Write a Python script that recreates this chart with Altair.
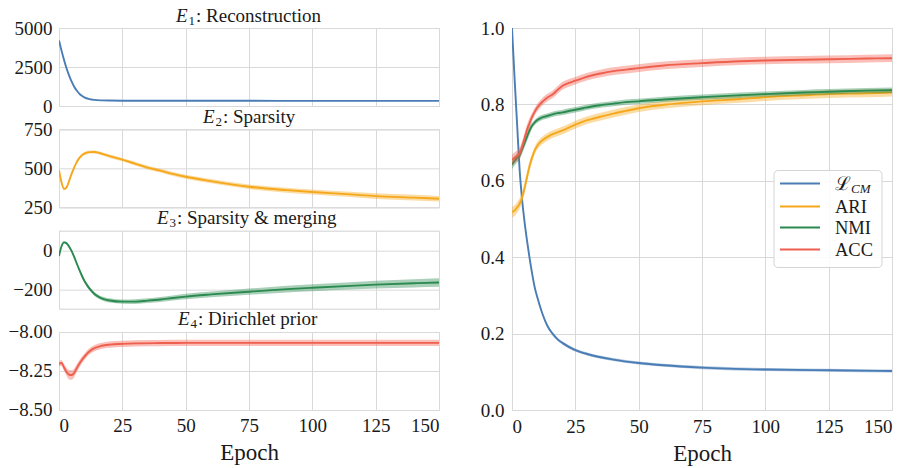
import altair as alt
import pandas as pd

FONT = "Liberation Serif"
TEXT_COLOR = "#1a1a1a"
GRID_COLOR = "#d9d9d9"
EPOCH_TICKS = [0, 25, 50, 75, 100, 125, 150]

# ---------------- left column data ----------------
E1_EPOCHS = [0, 1, 2, 3, 4, 5, 6, 7, 8, 9, 10, 12, 14, 17, 20, 25, 35, 50, 75, 100, 125, 150]
E1_VALS = [4200, 3550, 2950, 2400, 1950, 1560, 1240, 990, 790, 650, 550, 440, 390, 360, 348, 340,
           336, 334, 332, 331, 330, 330]
E1_STD = [60, 50, 45, 40, 35, 30, 25, 20, 18, 15, 12, 10, 8, 8, 8, 8, 8, 8, 8, 8, 8, 8]

E2_EPOCHS = [0, 1, 2, 3, 4, 5, 6, 7, 8, 9, 10, 12, 14, 16, 18, 20, 25, 30, 35, 40, 45, 50, 60, 75,
             90, 100, 115, 125, 140, 150]
E2_VALS = [488, 410, 368, 378, 420, 466, 505, 540, 565, 583, 594, 604, 605, 598, 588, 578, 556, 530,
           505, 485, 464, 446, 418, 382, 360, 348, 333, 322, 312, 305]
E2_STD = [8, 8, 8, 8, 8, 8, 8, 9, 9, 10, 10, 10, 10, 10, 11, 11, 11, 12, 12, 12, 13, 13, 14, 15,
          16, 16, 17, 18, 18, 18]

E3_EPOCHS = [0, 1, 2, 3, 4, 5, 6, 7, 8, 9, 10, 11, 12, 14, 16, 18, 20, 25, 30, 35, 40, 45, 50, 60,
             75, 90, 100, 115, 125, 140, 150]
E3_VALS = [-30, 20, 40, 35, 18, -5, -35, -68, -100, -130, -157, -178, -196, -225, -242, -252, -258,
           -264, -264, -259, -253, -245, -238, -227, -213, -200, -193, -183, -177, -170, -166]
E3_STD = [6, 6, 6, 7, 7, 7, 8, 8, 8, 9, 9, 9, 10, 10, 10, 11, 11, 11, 12, 12, 13, 13, 14, 15, 16,
          17, 18, 19, 20, 21, 22]

E4_EPOCHS = [0, 1, 2, 3, 4, 5, 6, 7, 8, 9, 10, 11, 12, 14, 16, 18, 20, 25, 30, 40, 50, 75, 100,
             125, 150]
E4_VALS = [-8.205, -8.198, -8.228, -8.256, -8.274, -8.276, -8.262, -8.232, -8.205, -8.180, -8.160,
           -8.140, -8.125, -8.104, -8.092, -8.085, -8.081, -8.076, -8.073, -8.071, -8.070, -8.070,
           -8.070, -8.070, -8.070]
E4_STD = [0.015, 0.018, 0.022, 0.026, 0.03, 0.03, 0.028, 0.026, 0.024, 0.022, 0.021, 0.02, 0.02,
          0.02, 0.02, 0.02, 0.02, 0.02, 0.02, 0.02, 0.02, 0.02, 0.02, 0.02, 0.02]

# ---------------- right panel data ----------------
LCM_EPOCHS = [0, 1, 2, 3, 4, 5, 6, 7, 8, 9, 10, 12, 14, 16, 18, 20, 25, 30, 40, 50, 60, 75, 100,
              125, 150]
LCM_VALS = [1.0, 0.87, 0.75, 0.63, 0.55, 0.49, 0.44, 0.395, 0.355, 0.32, 0.295, 0.252, 0.22, 0.2,
            0.185, 0.175, 0.157, 0.146, 0.132, 0.123, 0.117, 0.111, 0.106, 0.104, 0.102]
LCM_STD = [0.004] * len(LCM_EPOCHS)

M_EPOCHS = [0, 1, 2, 3, 4, 5, 6, 7, 8, 9, 10, 11, 12, 13, 14, 15, 16, 18, 20, 22, 25, 28, 31, 35,
            40, 45, 50, 60, 75, 90, 100, 115, 125, 140, 150]
ACC_VALS = [0.655, 0.66, 0.665, 0.672, 0.69, 0.712, 0.735, 0.752, 0.768, 0.781, 0.792, 0.80,
            0.807, 0.813, 0.818, 0.822, 0.826, 0.838, 0.849, 0.855, 0.862, 0.869, 0.875, 0.881,
            0.887, 0.891, 0.895, 0.902, 0.908, 0.913, 0.915, 0.917, 0.918, 0.92, 0.921]
NMI_VALS = [0.642, 0.652, 0.66, 0.667, 0.683, 0.70, 0.717, 0.733, 0.745, 0.753, 0.759, 0.763,
            0.766, 0.768, 0.77, 0.772, 0.774, 0.777, 0.779, 0.782, 0.786, 0.79, 0.794, 0.798,
            0.802, 0.806, 0.808, 0.813, 0.819, 0.824, 0.827, 0.831, 0.833, 0.836, 0.837]
ARI_VALS = [0.518, 0.522, 0.53, 0.54, 0.557, 0.582, 0.612, 0.64, 0.662, 0.68, 0.692, 0.70, 0.706,
            0.711, 0.715, 0.719, 0.722, 0.727, 0.732, 0.738, 0.747, 0.755, 0.761, 0.768, 0.776,
            0.783, 0.79, 0.799, 0.808, 0.814, 0.819, 0.824, 0.827, 0.829, 0.831]
ACC_STD = [0.014] * 8 + [0.01] * (len(M_EPOCHS) - 8)
NMI_STD = [0.012] * 8 + [0.007] * (len(M_EPOCHS) - 8)
ARI_STD = [0.014] * 8 + [0.01] * (len(M_EPOCHS) - 8)

TITLE_SUBS = ["1", "2", "3", "4"]
TITLE_MAINS = [": Reconstruction", ": Sparsity", ": Sparsity & merging", ": Dirichlet prior"]
LEGEND_LABELS = ["ARI", "NMI", "ACC"]

BLUE, ORANGE, GREEN, RED = "#4a7db5", "#f5a81c", "#2b8a4f", "#ef5f4e"

AXIS_STYLE = dict(labelFont=FONT, labelFontSize=19, labelColor=TEXT_COLOR, gridColor=GRID_COLOR,
                  gridWidth=1, ticks=False, domain=False, titleFont=FONT, titleFontSize=23,
                  titleFontWeight="normal", titleColor=TEXT_COLOR)


def band_df(epochs, vals, std):
    return pd.DataFrame({
        "epoch": epochs,
        "value": vals,
        "lo": [v - s for v, s in zip(vals, std)],
        "hi": [v + s for v, s in zip(vals, std)],
    })


def x_enc(bottom):
    if bottom:
        axis = alt.Axis(values=EPOCH_TICKS, title="Epoch", labelPadding=7, titlePadding=6,
                        **AXIS_STYLE)
    else:
        axis = alt.Axis(values=EPOCH_TICKS, labels=False, title=None, **AXIS_STYLE)
    return alt.X("epoch:Q", scale=alt.Scale(domain=[0, 150], nice=False, zero=False), axis=axis)


def series_layers(df, color, yscale, yaxis, bottom):
    band = alt.Chart(df).mark_area(color=color, opacity=0.4, interpolate="monotone", clip=True).encode(
        x=x_enc(bottom), y=alt.Y("lo:Q", scale=yscale, axis=yaxis), y2="hi:Q")
    line = alt.Chart(df).mark_line(color=color, strokeWidth=1.9, interpolate="monotone", clip=True).encode(
        x=x_enc(bottom), y=alt.Y("value:Q", scale=yscale, axis=yaxis))
    return [band, line]


def title_layers(sub, main, xE):
    tdf = pd.DataFrame({"e": ["E"], "s": [sub], "m": [main]})
    base = alt.Chart(tdf)
    yb = -6.5
    tE = base.mark_text(font=FONT, fontSize=19, fontStyle="italic", align="left",
                        baseline="alphabetic", color=TEXT_COLOR).encode(
        text="e:N", x=alt.value(xE), y=alt.value(yb))
    tS = base.mark_text(font=FONT, fontSize=13, align="left", baseline="alphabetic",
                        color=TEXT_COLOR).encode(text="s:N", x=alt.value(xE + 12.5), y=alt.value(yb + 3))
    tM = base.mark_text(font=FONT, fontSize=19, align="left", baseline="alphabetic",
                        color=TEXT_COLOR).encode(text="m:N", x=alt.value(xE + 20), y=alt.value(yb))
    return [tE, tS, tM]


left_specs = [
    (band_df(E1_EPOCHS, E1_VALS, E1_STD), BLUE, [0, 5000], [0, 2500, 5000], "d", 117),
    (band_df(E2_EPOCHS, E2_VALS, E2_STD), ORANGE, [250, 750], [250, 500, 750], "d", 144),
    (band_df(E3_EPOCHS, E3_VALS, E3_STD), GREEN, [-300, 100], [-200, 0], "d", 98),
    (band_df(E4_EPOCHS, E4_VALS, E4_STD), RED, [-8.5, -8.0], [-8.5, -8.25, -8.0], ".2f", 119),
]

left_panels = []
for i, (df, color, dom, ticks, fmt, xE) in enumerate(left_specs):
    bottom = i == 3
    yscale = alt.Scale(domain=dom, nice=False, zero=False)
    yaxis = alt.Axis(values=ticks, format=fmt, title=None, labelPadding=7, **AXIS_STYLE)
    layers = series_layers(df, color, yscale, yaxis, bottom) + title_layers(TITLE_SUBS[i], TITLE_MAINS[i], xE)
    left_panels.append(alt.layer(*layers).properties(width=380, height=78))

left = alt.vconcat(*left_panels, spacing=23.33, bounds="flush").resolve_scale(
    x="independent", y="independent")

# ---------------- right panel ----------------
ryscale = alt.Scale(domain=[0, 1], nice=False, zero=False)
ryaxis = alt.Axis(values=[0, 0.2, 0.4, 0.6, 0.8, 1.0], format=".1f", title=None, labelPadding=8,
                  **AXIS_STYLE)
right_layers = []
right_series = [
    (band_df(LCM_EPOCHS, LCM_VALS, LCM_STD), BLUE),
    (band_df(M_EPOCHS, ARI_VALS, ARI_STD), ORANGE),
    (band_df(M_EPOCHS, NMI_VALS, NMI_STD), GREEN),
    (band_df(M_EPOCHS, ACC_VALS, ACC_STD), RED),
]
for df, color in right_series:
    right_layers += series_layers(df, color, ryscale, ryaxis, True)

# legend (manual, to allow the subscripted L_CM label)
one = pd.DataFrame({"k": [0]})
legend_box = alt.Chart(one).mark_rect(fill="white", fillOpacity=0.85, stroke="#d4d4d4",
                                      strokeWidth=1, cornerRadius=4).encode(
    x=alt.value(262), x2=alt.value(370), y=alt.value(142.5), y2=alt.value(239.5))
right_layers.append(legend_box)
row_y = [155.5, 178.5, 199.5, 221.5]
for color, yy in zip([BLUE, ORANGE, GREEN, RED], row_y):
    right_layers.append(alt.Chart(one).mark_rule(color=color, strokeWidth=2).encode(
        x=alt.value(268), x2=alt.value(308), y=alt.value(yy)))
ldf = pd.DataFrame({"L": ["ℒ"], "sub": ["CM"]})
right_layers.append(alt.Chart(ldf).mark_text(font=FONT, fontSize=19, align="left",
                                             baseline="alphabetic", color=TEXT_COLOR).encode(
    text="L:N", x=alt.value(323), y=alt.value(row_y[0] + 6.5)))
right_layers.append(alt.Chart(ldf).mark_text(font=FONT, fontSize=13, fontStyle="italic",
                                             align="left", baseline="alphabetic",
                                             color=TEXT_COLOR).encode(
    text="sub:N", x=alt.value(339), y=alt.value(row_y[0] + 9.5)))
for lab, yy in zip(LEGEND_LABELS, row_y[1:]):
    tdf = pd.DataFrame({"t": [lab]})
    right_layers.append(alt.Chart(tdf).mark_text(font=FONT, fontSize=18.5, align="left",
                                                 baseline="alphabetic", color=TEXT_COLOR).encode(
        text="t:N", x=alt.value(323), y=alt.value(yy + 6)))

right = alt.layer(*right_layers).properties(width=380, height=382)

chart = alt.hconcat(left, right, spacing=39).resolve_scale(
    x="independent", y="independent").properties(
    padding={"left": 7, "top": 6, "right": 3, "bottom": 3},
    background="white",
).configure_view(stroke="#d0d0d0", strokeWidth=1)

chart.save("out.html", embed_options={"renderer": "svg", "actions": False})
